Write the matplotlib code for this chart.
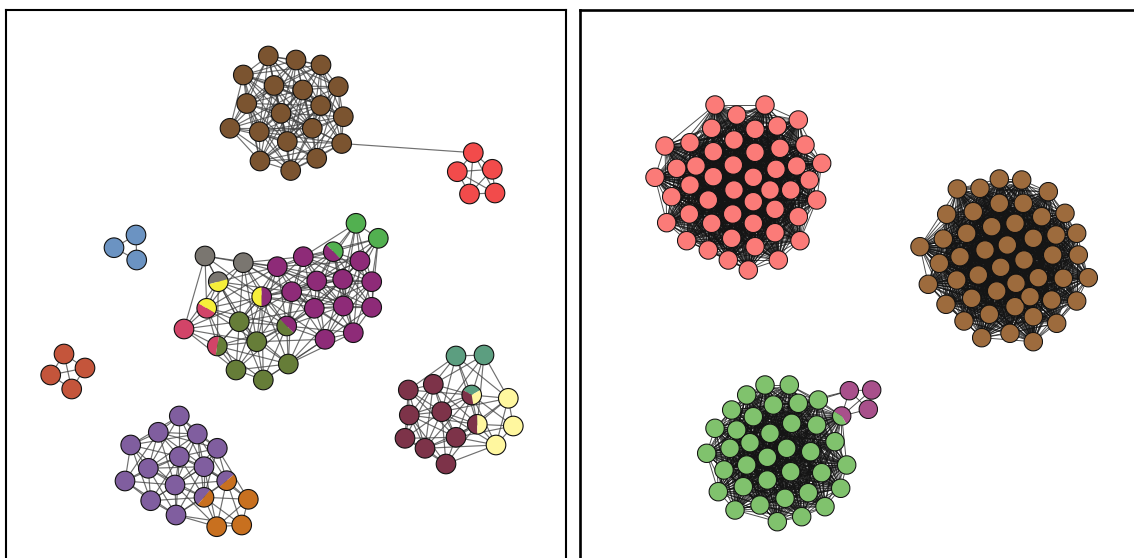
import itertools
import numpy as np
import matplotlib
matplotlib.use("Agg")
import matplotlib.pyplot as plt
from matplotlib.patches import Wedge
from matplotlib.collections import LineCollection

W, H = 1134, 558

# ---------------- left network: community layouts ----------------
brown_x = [268.3, 296, 321, 243.3, 274, 302.7, 338.3, 246.7, 320.7, 281, 343.3,
           230, 259.3, 312.3, 287.3, 341.7, 260, 316.7, 290.7]
brown_y = [56, 60, 65, 75, 85.5, 90, 86.7, 103.5, 105.5, 113.3, 116.7,
           128.3, 131.7, 128.3, 141.5, 143.5, 161, 158.3, 170.5]
red_x = [473.3, 457.3, 492.3, 469.5, 495]
red_y = [152.7, 171.7, 169.3, 194, 193]
blue_x = [136, 114, 136.7]
blue_y = [235, 247.7, 260]
rust_x = [64, 85, 50.7, 71.7]
rust_y = [354, 368, 375, 389]

lime_x = [356, 378.3]
lime_y = [223.3, 238.3]
gray_x = [205, 243.3]
gray_y = [256, 262.7]
pink_x = [184]
pink_y = [329]
olive_x = [239.3, 256.7, 236, 263.3, 288.3]
olive_y = [321.7, 341.7, 370, 380, 364]
magenta_x = [277.3, 303.3, 360, 291.7, 316.7, 342.7, 371.7, 314.3, 343.3, 371.7, 325, 353.3]
magenta_y = [266.7, 256.7, 261, 291.7, 281, 279.3, 281.7, 308.3, 306, 307.3, 339.3, 332.7]

lavender_x = [179.3, 158.3, 197.3, 130.7, 217.3, 179.3, 148.3, 204, 125, 175, 150.7, 176]
lavender_y = [416, 432.3, 434, 445, 448.3, 456.7, 468.3, 466.7, 481, 485, 500.7, 515]
orange_x = [248.3, 216.7, 241.7]
orange_y = [499.3, 526.7, 525]

teal_x = [456, 484]
teal_y = [356, 355]
maroon_x = [408.3, 433.3, 409.3, 441.7, 405, 425, 456, 446]
maroon_y = [390, 384.3, 415, 411.7, 438.3, 448.3, 437.3, 464]
pale_x = [508.3, 513.3, 496]
pale_y = [398.3, 426, 445]

# mixed-membership nodes: position, communities, slice boundaries (degrees)
left_pie_x = [333.3, 218.3, 261.7, 206.7, 217.3, 286.7, 226.7, 204, 471.7, 477.3]
left_pie_y = [251.7, 281.7, 296.7, 308.3, 346, 326, 480.7, 497.3, 395, 424.3]
left_pie_groups = [("lime", "magenta"), ("gray", "yellow"), ("yellow", "magenta"),
                   ("yellow", "pink"), ("pink", "olive"), ("magenta", "olive"),
                   ("lavender", "orange"), ("lavender", "orange"),
                   ("teal", "maroon", "pale"), ("maroon", "pale")]
left_pie_bounds = [(-45, 135, 315), (15, 195, 375), (90, 270, 450), (-30, 150, 330),
                   (80, 260, 440), (-45, 135, 315), (40, 220, 400), (50, 230, 410),
                   (30, 150, 280, 390), (90, 270, 450)]

# ---------------- right network: community layouts ----------------
salmon_x = [715, 765, 736.7, 798.3, 711.7, 755, 777.3, 665, 690, 734, 805, 780, 755,
            713.3, 821.7, 676.7, 696, 733.3, 776, 796.7, 655, 713.3, 753.3, 809.3,
            690, 734, 770, 790.7, 671.7, 816.7, 708.3, 753.3, 775, 689.3, 732.7, 798.3,
            666.7, 711.7, 753.3, 775, 731.7, 686.7, 800, 708.3, 755, 728.3, 778.3, 748.3]
salmon_y = [105, 105, 115, 120, 128.3, 129.3, 126, 146, 142.7, 140, 145, 148.3, 152.3,
            151.7, 163.3, 168.3, 166, 165, 169.3, 166, 177.3, 176.7, 177.3, 180,
            185, 190, 190, 190, 196.7, 200, 200, 201.7, 209.3, 214, 214, 216.7,
            222.7, 223.3, 223.3, 232.7, 238.3, 240.7, 240.7, 250, 246.7, 260, 260, 270]
tan_x = [999.3, 1021.7, 957.3, 980, 1048.3, 999.3, 1023.3, 973.3, 1065, 946.7, 1041.7,
         991.7, 1015, 966.7, 1056, 1076.7, 943.3, 1033.3, 920, 985, 1007.3, 960,
         1052.7, 1078.3, 939.3, 1024, 1000.7, 978.3, 1038.3, 1063.3, 1088.3, 956.7,
         928.3, 1016, 996.7, 971.7, 1030, 1051.7, 1076.7, 946, 989.3, 1015, 964,
         1033.3, 1056.7, 981.7, 1010, 1033.3]
tan_y = [179, 180, 189, 188.3, 191.7, 203.3, 203.3, 211.7, 213.3, 214.3, 216.7,
         226.7, 223.3, 233.3, 235, 233.3, 239, 238.3, 246.7, 250, 245, 256.7,
         255, 255, 263.3, 260, 267.3, 275, 277.7, 278.3, 277.7, 280,
         284.3, 283.3, 291, 298.3, 296.7, 300, 301, 304.3, 314.3, 306.7, 321,
         316.7, 323.3, 337.7, 333.3, 341.7]
green_x = [765, 789.3, 746.7, 818.3, 773.3, 798.3, 731.7, 753.3, 791.7, 816.7, 715,
           736.7, 770, 835, 750, 730, 786.7, 810.7, 706.7, 767.3, 746.7, 846.7, 724,
           790.7, 821.7, 767.3, 743.3, 840.7, 718.3, 808.3, 785, 760, 825, 735,
           801.7, 777.3]
green_y = [385, 385, 395, 400, 405, 403.3, 410, 416.7, 423.3, 425, 428.3,
           430, 433.3, 441.7, 442.7, 448.3, 448.3, 451.7, 453.3, 457.3, 465, 465, 470,
           471.7, 472.7, 480, 486.7, 488.3, 491.7, 492.7, 498.3, 505, 506.7, 510,
           516.7, 521.7]
plum_x = [849.3, 871.7, 868.3]
plum_y = [390.7, 390, 409.3]

right_pie_x = [841.7]
right_pie_y = [416]
right_pie_groups = [("plum", "green")]
right_pie_bounds = [(-60, 150, 300)]

# ---------------- styling ----------------
colors = {
    "brown": "#7b5430", "red": "#f24b4b", "blue": "#6b93c2", "rust": "#c4553b",
    "lime": "#52b050", "gray": "#7a7670", "yellow": "#f6ef3a", "pink": "#d24468",
    "olive": "#667d38", "magenta": "#8e2b78", "lavender": "#805e9f",
    "orange": "#c8701f", "teal": "#5c9e80", "maroon": "#7d3349", "pale": "#fff79f",
    "salmon": "#fb7b78", "tan": "#9d6b3d", "green": "#80c26d", "plum": "#a8508b",
}

# connected components and their neighbourhood reach (px) for edges
component = {
    "brown": ("A", 88), "red": ("B", 50), "blue": ("C", 40), "rust": ("D", 40),
    "lime": ("E", 85), "gray": ("E", 85), "yellow": ("E", 85), "pink": ("E", 85),
    "olive": ("E", 85), "magenta": ("E", 85),
    "lavender": ("F", 68), "orange": ("F", 68),
    "teal": ("G", 72), "maroon": ("G", 72), "pale": ("G", 72),
    "salmon": ("H", 400), "tan": ("I", 400), "green": ("J", 400), "plum": ("K", 40),
}

left_groups = [("brown", brown_x, brown_y), ("red", red_x, red_y),
               ("blue", blue_x, blue_y), ("rust", rust_x, rust_y),
               ("lime", lime_x, lime_y), ("gray", gray_x, gray_y),
               ("pink", pink_x, pink_y), ("olive", olive_x, olive_y),
               ("magenta", magenta_x, magenta_y),
               ("lavender", lavender_x, lavender_y), ("orange", orange_x, orange_y),
               ("teal", teal_x, teal_y), ("maroon", maroon_x, maroon_y),
               ("pale", pale_x, pale_y)]
right_groups = [("salmon", salmon_x, salmon_y), ("tan", tan_x, tan_y),
                ("green", green_x, green_y), ("plum", plum_x, plum_y)]

# extra links between communities
left_bridges = [((341.7, 143.5), (473.3, 152.7))]
right_bridges = [((849.3, 390.7), (818.3, 400)), ((849.3, 390.7), (798.3, 403.3))]


def collect(groups, pie_x, pie_y, pie_groups, pie_bounds):
    nodes = []
    for name, xs, ys in groups:
        for x, y in zip(xs, ys):
            nodes.append((x, y, (name,), (0, 360)))
    for x, y, g, b in zip(pie_x, pie_y, pie_groups, pie_bounds):
        nodes.append((x, y, g, b))
    return nodes


def build_edges(nodes):
    segs = []
    for a, b in itertools.combinations(nodes, 2):
        ca = {component[g] for g in a[2]}
        cb = {component[g] for g in b[2]}
        shared = ca & cb
        if not shared:
            continue
        reach = max(r for _, r in shared)
        if np.hypot(a[0] - b[0], a[1] - b[1]) <= reach:
            segs.append([(a[0], a[1]), (b[0], b[1])])
    return segs


def draw_nodes(ax, nodes, radius, lw):
    for x, y, groups, bounds in nodes:
        # y axis runs downward, so screen angles are mirrored in data space
        for i, g in enumerate(groups):
            a0, a1 = bounds[i], bounds[i + 1]
            ax.add_patch(Wedge((x, y), radius, -a1, -a0, facecolor=colors[g],
                               edgecolor="none", zorder=3))
        ax.add_patch(Wedge((x, y), radius, 0, 360, facecolor="none",
                           edgecolor="#111111", linewidth=lw, zorder=4))


fig = plt.figure(figsize=(W / 100, H / 100), dpi=100)
fig.patch.set_facecolor("white")


def panel(x0, x1, y0, y1):
    ax = fig.add_axes([x0 / W, 1 - y1 / H, (x1 - x0) / W, (y1 - y0) / H])
    ax.set_xlim(x0, x1)
    ax.set_ylim(y1, y0)
    ax.set_xticks([])
    ax.set_yticks([])
    return ax


axL = panel(6, 565.5, 10, 590)
axR = panel(579.5, 1150, 10, 590)
for sp in axL.spines.values():
    sp.set_linewidth(1.5)
for sp in axR.spines.values():
    sp.set_linewidth(1.9)

left_nodes = collect(left_groups, left_pie_x, left_pie_y, left_pie_groups, left_pie_bounds)
right_nodes = collect(right_groups, right_pie_x, right_pie_y, right_pie_groups, right_pie_bounds)

axL.add_collection(LineCollection(build_edges(left_nodes) + left_bridges,
                                  colors="#404040", linewidths=0.85, alpha=0.75, zorder=1))
axR.add_collection(LineCollection(build_edges(right_nodes) + right_bridges,
                                  colors="#151515", linewidths=0.7, alpha=0.75, zorder=1))

draw_nodes(axL, left_nodes, 9.8, 0.8)
draw_nodes(axR, right_nodes, 9.2, 0.75)

fig.savefig("out.png", dpi=100, facecolor="white")
